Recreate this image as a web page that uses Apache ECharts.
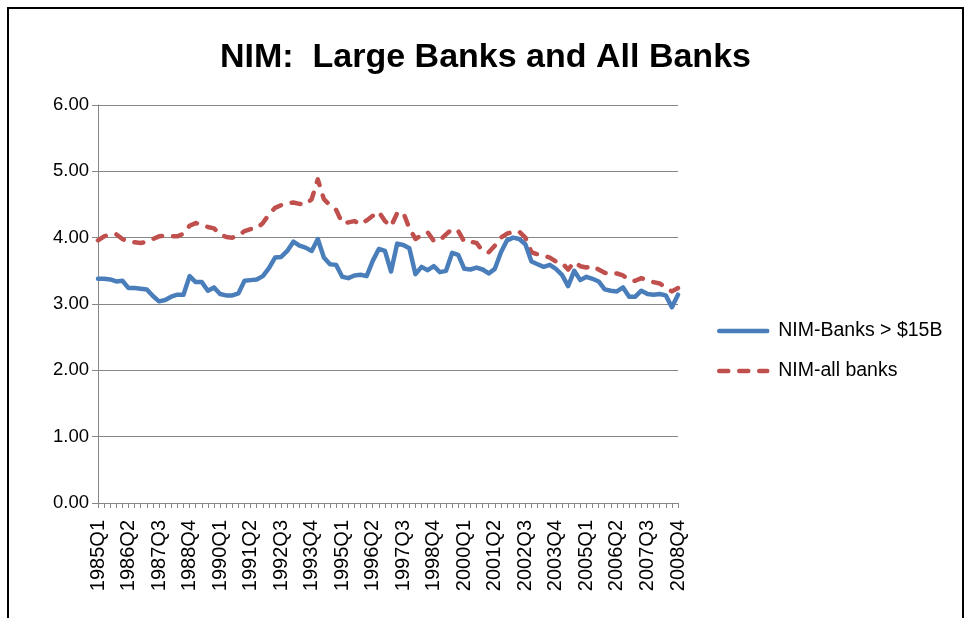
<!DOCTYPE html>
<html>
<head>
<meta charset="utf-8">
<script src="https://cdn.jsdelivr.net/npm/echarts@6/dist/echarts.min.js"></script>
<style>
html,body{margin:0;padding:0;background:#fff;}
#chart{width:971px;height:618px;}
</style>
</head>
<body>
<div id="chart"></div>
<script>
// Quarter categories 1985Q1 .. 2008Q4
const years = [1985,1986,1987,1988,1989,1990,1991,1992,1993,1994,1995,1996,1997,1998,1999,2000,2001,2002,2003,2004,2005,2006,2007,2008];
const quarters = ['Q1','Q2','Q3','Q4'];
const categories = [];
years.forEach(y => quarters.forEach(q => categories.push(y + q)));

const seriesNames = ['NIM-Banks > $15B', 'NIM-all banks'];

const nimLargeBanks = [
  3.38,3.38,3.37,3.34,3.35,3.24,3.24,3.23,3.22,3.12,
  3.04,3.06,3.11,3.14,3.14,3.42,3.33,3.33,3.20,3.25,
  3.15,3.13,3.13,3.16,3.35,3.36,3.37,3.42,3.54,3.70,
  3.71,3.80,3.94,3.88,3.85,3.80,3.98,3.70,3.60,3.59,
  3.41,3.39,3.43,3.44,3.42,3.65,3.83,3.80,3.49,3.91,
  3.89,3.84,3.45,3.56,3.51,3.57,3.48,3.50,3.77,3.74,
  3.53,3.52,3.55,3.52,3.46,3.53,3.78,3.96,4.00,3.98,
  3.90,3.64,3.60,3.56,3.59,3.53,3.44,3.27,3.50,3.36,
  3.41,3.38,3.34,3.22,3.20,3.19,3.25,3.11,3.11,3.20,
  3.15,3.14,3.15,3.13,2.95,3.14
];

const nimAllBanks = [
  3.96,4.02,4.05,4.05,3.98,3.94,3.93,3.92,3.94,3.98,
  4.02,4.03,4.02,4.02,4.06,4.18,4.22,4.20,4.16,4.14,
  4.05,4.01,4.00,4.03,4.10,4.13,4.14,4.22,4.35,4.45,
  4.49,4.52,4.53,4.51,4.50,4.58,4.88,4.58,4.49,4.42,
  4.22,4.23,4.25,4.20,4.26,4.33,4.39,4.25,4.17,4.37,
  4.38,4.14,3.98,4.04,4.08,3.95,3.96,4.05,4.13,4.10,
  3.94,3.94,3.92,3.80,3.78,3.88,4.00,4.06,4.09,4.09,
  4.00,3.78,3.75,3.73,3.70,3.64,3.62,3.52,3.63,3.57,
  3.55,3.57,3.52,3.47,3.45,3.46,3.43,3.36,3.35,3.39,
  3.36,3.33,3.31,3.25,3.19,3.24
];

const titleText = 'NIM:  Large Banks and All Banks';

const chart = echarts.init(document.getElementById('chart'), null, {renderer: 'canvas'});
const axisGray = '#868686';
chart.setOption({
  animation: false,
  backgroundColor: '#ffffff',
  title: {
    text: titleText,
    left: 'center',
    top: 36,
    textStyle: {fontFamily: 'Liberation Sans', fontWeight: 'bold', fontSize: 34, color: '#000'}
  },
  graphic: [{
    type: 'rect',
    shape: {x: 8, y: 8, width: 955, height: 640},
    style: {fill: 'none', stroke: '#000', lineWidth: 2},
    silent: true
  }],
  legend: {
    orient: 'vertical',
    left: 712,
    top: 316,
    itemWidth: 48,
    itemHeight: 20,
    itemGap: 20,
    itemStyle: {opacity: 0},
    lineStyle: {width: 4.5},
    textStyle: {fontFamily: 'Liberation Sans', fontSize: 19.5, color: '#000', padding: [0, 0, 0, 6]},
    data: seriesNames
  },
  grid: {left: 98, right: 293, top: 105, bottom: 115, containLabel: false},
  xAxis: {
    type: 'category',
    data: categories,
    boundaryGap: false,
    axisLine: {lineStyle: {color: axisGray, width: 1}},
    axisTick: {show: true, interval: 0, length: 5, lineStyle: {color: axisGray}},
    axisLabel: {
      interval: 4,
      rotate: 90,
      margin: 17,
      fontFamily: 'Liberation Sans',
      fontSize: 20,
      color: '#000'
    },
    splitLine: {show: false}
  },
  yAxis: {
    type: 'value',
    min: 0,
    max: 6,
    interval: 1,
    axisLine: {show: true, lineStyle: {color: axisGray, width: 1}},
    axisTick: {show: true, length: 6, lineStyle: {color: axisGray}},
    axisLabel: {
      formatter: v => v.toFixed(2),
      margin: 9,
      fontFamily: 'Liberation Sans',
      fontSize: 18.5,
      color: '#000'
    },
    splitLine: {show: true, lineStyle: {color: axisGray, width: 1}}
  },
  series: [
    {
      name: seriesNames[0],
      type: 'line',
      data: nimLargeBanks,
      symbol: 'none',
      smooth: false,
      lineStyle: {color: '#4A7EBB', width: 4.5, cap: 'round', join: 'round'},
      itemStyle: {color: '#4A7EBB'},
      z: 3
    },
    {
      name: seriesNames[1],
      type: 'line',
      data: nimAllBanks,
      symbol: 'none',
      smooth: false,
      lineStyle: {color: '#C0504D', width: 4.5, type: [9, 11], cap: 'round', join: 'round'},
      itemStyle: {color: '#C0504D'},
      z: 2
    }
  ]
});
</script>
</body>
</html>
